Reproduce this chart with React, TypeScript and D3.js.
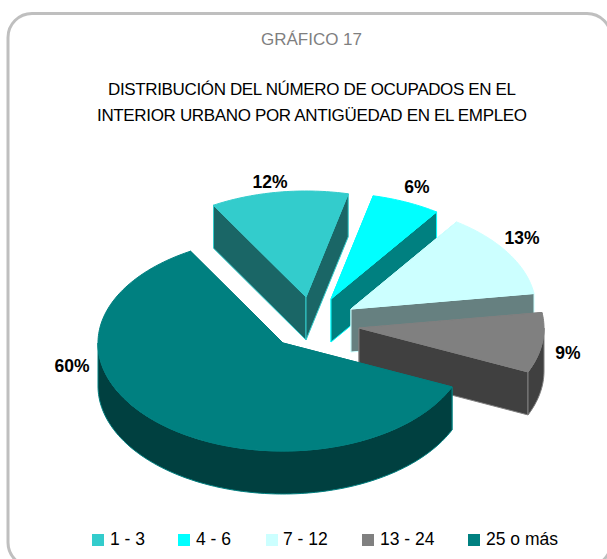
import React from "react";
import * as d3 from "d3";

const categories = ["1 - 3", "4 - 6", "7 - 12", "13 - 24", "25 o más"];
const values = [12, 6, 13, 9, 60];
const labels = ["12%", "6%", "13%", "9%", "60%"];
const topColors = ["#33CCCC", "#00FFFF", "#CCFFFF", "#808080", "#008080"];
const wallColors = ["#1A6666", "#008080", "#668080", "#404040", "#004040"];
const explodeX = [23, 48, 68, 76, 0];
const explodeY = [-46, -44, -34, -15, 0];
const labelX = [270, 417, 522, 568, 72];
const labelY = [188, 193, 244, 359, 372];
const legendSwatchX = [92, 178, 266, 362, 468];
const legendTextX = [110, 196, 283, 380, 486];

const FONT = "'Liberation Sans', Arial, sans-serif";
const CX = 283, CY = 343, RX = 185, RY_BACK = 106, RY_FRONT = 108, DEPTH = 43;
const START = -Math.PI / 6;

const pieGen = d3.pie<number>().sort(null).startAngle(START).endAngle(START + 2 * Math.PI);
const arcs = pieGen(values);
const lineGen = d3.line<[number, number]>();

function project(a: number, ox: number, oy: number, dz = 0): [number, number] {
  const c = Math.cos(a);
  return [CX + ox + RX * Math.sin(a), CY + oy - (c > 0 ? RY_BACK : RY_FRONT) * c + dz];
}
function arcPts(a0: number, a1: number, ox: number, oy: number, dz = 0): [number, number][] {
  const n = Math.max(2, Math.ceil(Math.abs(a1 - a0) / 0.02));
  return d3.range(n + 1).map((i) => project(a0 + ((a1 - a0) * i) / n, ox, oy, dz));
}

function Slice({ i }: { i: number }) {
  const { startAngle: a0, endAngle: a1 } = arcs[i];
  const ox = explodeX[i], oy = explodeY[i];
  const apex: [number, number] = [CX + ox, CY + oy];
  const apexB: [number, number] = [apex[0], apex[1] + DEPTH];
  const s = project(a0, ox, oy), sB = project(a0, ox, oy, DEPTH);
  const e = project(a1, ox, oy), eB = project(a1, ox, oy, DEPTH);
  const v0 = Math.max(a0, Math.PI / 2), v1 = Math.min(a1, (3 * Math.PI) / 2);
  const outer =
    v1 > v0
      ? [...arcPts(v0, v1, ox, oy), ...arcPts(v1, v0, ox, oy, DEPTH)]
      : null;
  const top = [apex, ...arcPts(a0, a1, ox, oy)];
  const common = { stroke: topColors[i], strokeWidth: 1, strokeLinejoin: "round" as const };
  return (
    <g>
      <path d={lineGen([apex, s, sB, apexB])! + "Z"} fill={wallColors[i]} {...common} />
      <path d={lineGen([apex, e, eB, apexB])! + "Z"} fill={wallColors[i]} {...common} />
      {outer && <path d={lineGen(outer)! + "Z"} fill={wallColors[i]} {...common} />}
      <path d={lineGen(top)! + "Z"} fill={topColors[i]} {...common} />
    </g>
  );
}

export default function App() {
  return (
    <svg
      width={607}
      height={559}
      viewBox="0 0 607 559"
      style={{ position: "absolute", left: 0, top: 0, background: "#fff", fontFamily: FONT }}
    >
      <rect x={8} y={13.5} width={603} height={553} rx={24} fill="#fff" stroke="#BFBFBF" strokeWidth={3} />
      <text x={261} y={45} textLength={101} lengthAdjust="spacing" fontSize={17} fill="#7F7F7F">GRÁFICO 17</text>
      <text x={108} y={95} textLength={408} lengthAdjust="spacing" fontSize={17} fill="#000">DISTRIBUCIÓN DEL NÚMERO DE OCUPADOS EN EL</text>
      <text x={97} y={121} textLength={430} lengthAdjust="spacing" fontSize={17} fill="#000">INTERIOR URBANO POR ANTIGÜEDAD EN EL EMPLEO</text>
      {values.map((_, i) => <Slice key={i} i={i} />)}
      {labels.map((t, i) => (
        <text key={t} x={labelX[i]} y={labelY[i]} textAnchor="middle" fontSize={17.5} fontWeight="bold" fill="#000">{t}</text>
      ))}
      {categories.map((c, i) => (
        <g key={c}>
          <rect x={legendSwatchX[i]} y={534} width={12} height={12} fill={topColors[i]} />
          <text x={legendTextX[i]} y={545} fontSize={17.5} fill="#000">{c}</text>
        </g>
      ))}
    </svg>
  );
}
